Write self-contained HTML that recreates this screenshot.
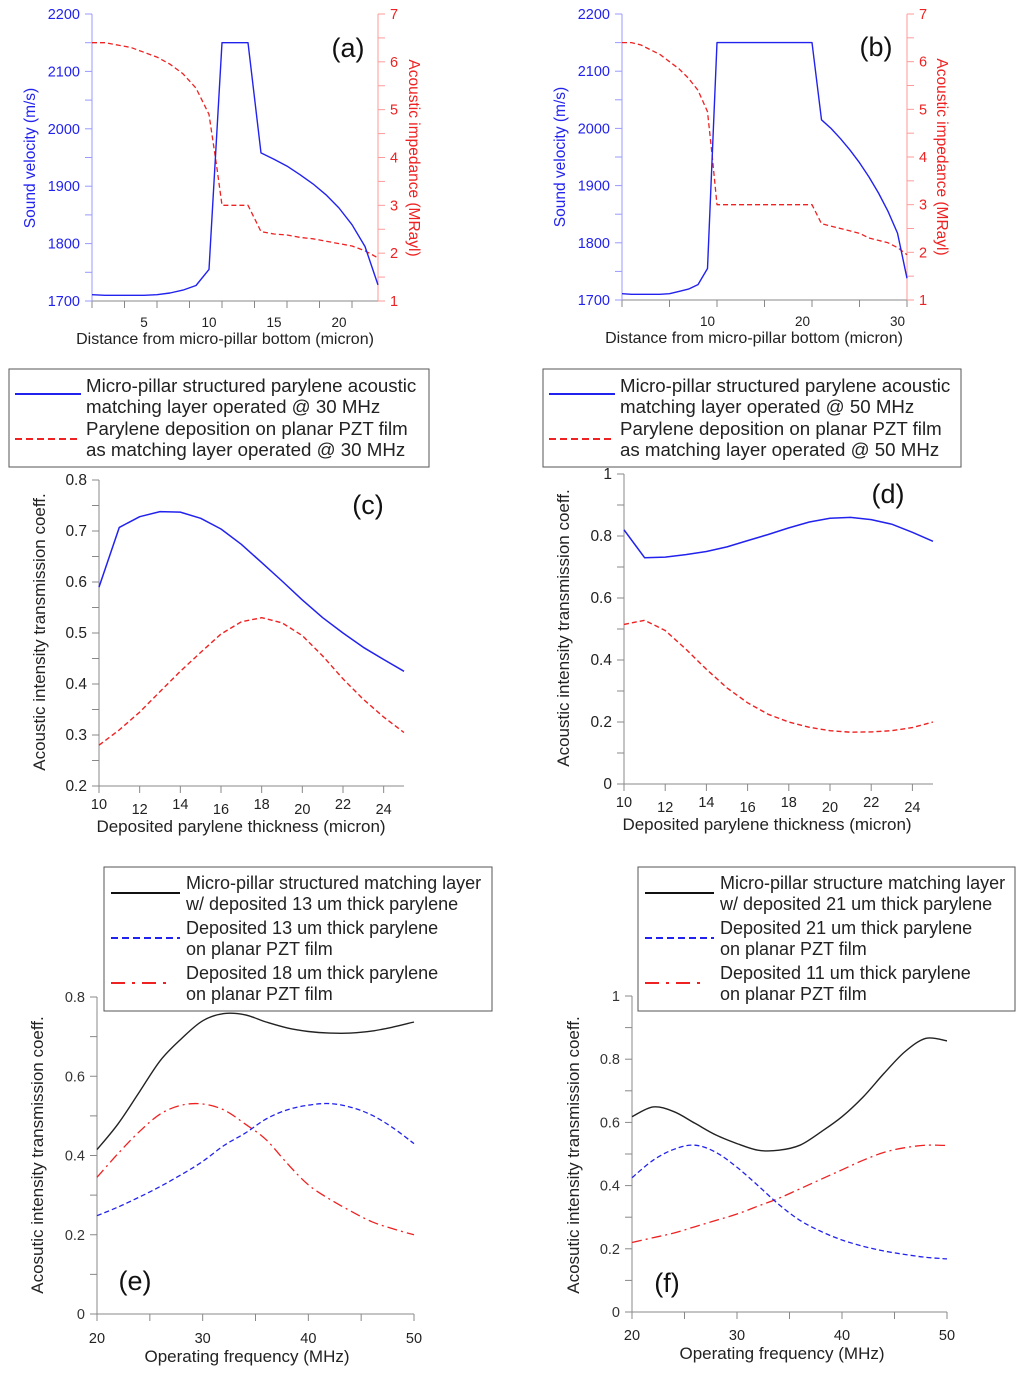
<!DOCTYPE html>
<html><head><meta charset="utf-8"><style>
html,body{margin:0;padding:0;background:#fff;}
svg{display:block;font-family:"Liberation Sans",Arial,sans-serif;}
</style></head><body>
<svg id="fig" width="1024" height="1374" viewBox="0 0 1024 1374" xmlns="http://www.w3.org/2000/svg"></svg>
<script>
// ---- data: panel (a)
const aX=[1,2,3,4,5,6,7,8,9,10,11,12,13,14,15,16,17,18,19,20,21,22,23];
const aVel=[1711,1710,1710,1710,1710,1711,1714,1719,1727,1755,2150,2150,2150,1958,1947,1935,1920,1904,1885,1862,1833,1795,1728];
const aZX=[1,2,3,4,5,6,7,8,9,10,10.6,11,12,13,14,15,16,17,18,19,20,21,22,23];
const aZ=[6.4,6.4,6.35,6.3,6.2,6.1,5.95,5.75,5.45,4.9,3.8,3.0,3.0,3.0,2.45,2.4,2.38,2.33,2.3,2.25,2.2,2.15,2.05,1.9];
// ---- panel (b)
const bX=[1,2,3,4,5,6,7,8,9,10,11,12,13,14,15,16,17,18,19,20,21,22,23,24,25,26,27,28,29,30,31];
const bVel=[1711,1710,1710,1710,1710,1711,1715,1719,1727,1755,2150,2150,2150,2150,2150,2150,2150,2150,2150,2150,2150,2015,2000,1982,1962,1940,1915,1887,1855,1817,1738];
const bZX=[1,2,3,4,5,6,7,8,9,10,10.5,11,12,13,14,15,16,17,18,19,20,21,22,23,24,25,26,27,28,29,30,31];
const bZ=[6.4,6.4,6.35,6.25,6.15,6.0,5.85,5.65,5.4,4.95,4.0,3.0,3.0,3.0,3.0,3.0,3.0,3.0,3.0,3.0,3.0,3.0,2.6,2.55,2.5,2.45,2.4,2.3,2.25,2.2,2.1,1.95];
// ---- panels (c),(d)
const thick=[10,11,12,13,14,15,16,17,18,19,20,21,22,23,24,25];
const cPillar=[0.59,0.707,0.728,0.738,0.737,0.725,0.704,0.674,0.638,0.602,0.565,0.53,0.5,0.472,0.448,0.425];
const cPlanar=[0.28,0.31,0.345,0.385,0.425,0.462,0.498,0.522,0.53,0.52,0.495,0.455,0.41,0.37,0.335,0.305];
const dPillar=[0.82,0.73,0.732,0.74,0.75,0.765,0.785,0.805,0.826,0.845,0.857,0.86,0.853,0.838,0.812,0.783];
const dPlanar=[0.515,0.528,0.495,0.435,0.37,0.31,0.262,0.225,0.2,0.183,0.172,0.167,0.168,0.172,0.182,0.2];
// ---- panels (e),(f)
const freq=[20,22,24,26,28,30,32,34,36,38,40,42,44,46,48,50];
const ePillar=[0.415,0.48,0.56,0.64,0.695,0.74,0.758,0.755,0.737,0.722,0.713,0.709,0.709,0.714,0.724,0.737];
const ePlanar13=[0.248,0.27,0.295,0.322,0.352,0.385,0.425,0.456,0.492,0.515,0.527,0.531,0.522,0.502,0.47,0.43];
const ePlanar18=[0.345,0.405,0.46,0.505,0.527,0.53,0.515,0.48,0.44,0.38,0.326,0.29,0.26,0.233,0.215,0.2];
const fPillar=[0.618,0.649,0.634,0.597,0.56,0.533,0.512,0.512,0.528,0.57,0.618,0.68,0.755,0.824,0.866,0.858];
const fPlanar21=[0.425,0.48,0.515,0.528,0.505,0.458,0.4,0.34,0.29,0.255,0.228,0.208,0.193,0.182,0.173,0.168];
const fPlanar11=[0.22,0.235,0.25,0.27,0.29,0.31,0.335,0.36,0.39,0.42,0.45,0.48,0.505,0.52,0.528,0.527];

const NS="http://www.w3.org/2000/svg";
const svg=document.getElementById('fig');
function el(tag,attrs,parent,text){const e=document.createElementNS(NS,tag);for(const k in attrs)e.setAttribute(k,attrs[k]);if(text!==undefined)e.textContent=text;(parent||svg).appendChild(e);return e;}
function scale(d0,d1,r0,r1){return v=>r0+(v-d0)*(r1-r0)/(d1-d0);}
function line(g,xs,ys,sx,sy,color,dash,w,name){
  const pts=xs.map((x,i)=>sx(x).toFixed(1)+','+sy(ys[i]).toFixed(1)).join(' ');
  const p=el('polyline',{points:pts,fill:'none',stroke:color,'stroke-width':w||1.5,'stroke-dasharray':dash||'none','stroke-linejoin':'round'},g);
  
  
  return p;
}
function curve(g,xs,ys,sx,sy,color,dash,w,name){
  const P=xs.map((x,i)=>[sx(x),sy(ys[i])]);
  let d='M'+P[0][0].toFixed(1)+','+P[0][1].toFixed(1);
  for(let i=0;i<P.length-1;i++){
    const p0=P[Math.max(i-1,0)],p1=P[i],p2=P[i+1],p3=P[Math.min(i+2,P.length-1)];
    const c1=[p1[0]+(p2[0]-p0[0])/6,p1[1]+(p2[1]-p0[1])/6];
    const c2=[p2[0]-(p3[0]-p1[0])/6,p2[1]-(p3[1]-p1[1])/6];
    d+=' C'+c1.map(v=>v.toFixed(1)).join(',')+' '+c2.map(v=>v.toFixed(1)).join(',')+' '+p2.map(v=>v.toFixed(1)).join(',');
  }
  const p=el('path',{d:d,fill:'none',stroke:color,'stroke-width':w||1.5,'stroke-dasharray':dash||'none'},g);
  
  
  return p;
}
function vtext(g,x,y,txt,color,size,rot,name){
  const t=el('text',{x:x,y:y,fill:color,'font-size':size,'text-anchor':'middle',transform:'rotate('+rot+' '+x+' '+y+')'},g,txt);
  
  
}
function yAxis(g,x,sy,min,max,minor,major,color,labColor,side,fmt,name,fs){
  const ax=el('g',{},g);
  
  
  el('line',{x1:x,y1:sy(min),x2:x,y2:sy(max),stroke:color,'stroke-width':1},ax);
  const n=Math.floor((max-min)/minor+1e-6);
  for(let i=0;i<=n;i++){const v=min+i*minor;const y=sy(v);const dir=side==='left'?-1:1;
    el('line',{x1:x,y1:y,x2:x+dir*7,y2:y,stroke:color,'stroke-width':1},ax);
    if(Math.abs(v/major-Math.round(v/major))<1e-6){
      el('text',{x:side==='left'?x-12:x+12,y:y+5,fill:labColor,'font-size':fs||14,'text-anchor':side==='left'?'end':'start'},ax,fmt(v));
    }}
}
function xAxis(g,y,sx,min,max,minor,labels,labelY,color,name,fs,stag){
  const ax=el('g',{},g);
  
  
  el('line',{x1:sx(min),y1:y,x2:sx(max),y2:y,stroke:color,'stroke-width':1},ax);
  const n=Math.floor((max-min)/minor+1e-6);
  for(let i=0;i<=n;i++){const v=min+i*minor;el('line',{x1:sx(v),y1:y,x2:sx(v),y2:y+7,stroke:color,'stroke-width':1},ax);}
  labels.forEach((v,i)=>{el('text',{x:sx(v),y:labelY+(stag&&i%2?5:0),fill:'#222','font-size':fs||14,'text-anchor':'middle'},ax,String(v));});
}
function plabel(g,x,y,t,name){const e=el('text',{x:x,y:y,'font-size':27,fill:'#111','text-anchor':'middle','font-family':'"Liberation Sans",sans-serif'},g,t);
  
  }
function legend(g,x,y,w,h,items,fs,name){
  const lg=el('g',{},g);
  
  
  el('rect',{x:x,y:y,width:w,height:h,fill:'#fff',stroke:'#555','stroke-width':1},lg);
  items.forEach(it=>{
    el('line',{x1:x+it.lx0,y1:y+it.ly,x2:x+it.lx1,y2:y+it.ly,stroke:it.color,'stroke-width':2,'stroke-dasharray':it.dash||'none'},lg);
    it.lines.forEach((s,j)=>el('text',{x:x+it.tx,y:y+it.ty+j*21,'font-size':fs,fill:'#222'},lg,s));
  });
}
const BLUE='#2222ee',RED='#ee2222',LB='#9a9aff',LR='#ff9a9a',GR='#888';

// ---------- Panel a
(function(){
  const g=el('g',{});
  const sx=scale(1,23,92,378), sy=scale(1700,2200,301,14), sz=scale(1,7,301,14);
  xAxis(g,301,sx,1,23,2.5,[5,10,15,20],327,GR,'x-axis-a',13.5);
  yAxis(g,92,sy,1700,2200,50,100,LB,BLUE,'left',v=>String(v),'y-axis-velocity-a',14.5);
  yAxis(g,378,sz,1,7,0.5,1,LR,RED,'right',v=>String(v),'y-axis-impedance-a',14.5);
  line(g,aZX,aZ,sx,sz,RED,'5,3',1.3,'impedance-line-a');
  line(g,aX,aVel,sx,sy,BLUE,null,1.4,'velocity-line-a');
  vtext(g,35,158,'Sound velocity (m/s)',BLUE,15.5,-90,'y-axis-title-velocity-a');
  vtext(g,409,158,'Acoustic impedance (MRayl)',RED,15.5,90,'y-axis-title-impedance-a');
  el('text',{x:225,y:344,'font-size':16,'text-anchor':'middle',fill:'#222'},g,'Distance from micro-pillar bottom (micron)');
  plabel(g,348,57,'(a)','panel-label-a');
})();
// ---------- Panel b
(function(){
  const g=el('g',{});
  const sx=scale(1,31,622,907), sy=scale(1700,2200,300,14), sz=scale(1,7,300,14);
  xAxis(g,300,sx,1,31,5,[10,20,30],326,GR,'x-axis-b',13.5);
  yAxis(g,622,sy,1700,2200,50,100,LB,BLUE,'left',v=>String(v),'y-axis-velocity-b',14.5);
  yAxis(g,907,sz,1,7,0.5,1,LR,RED,'right',v=>String(v),'y-axis-impedance-b',14.5);
  line(g,bZX,bZ,sx,sz,RED,'5,3',1.3,'impedance-line-b');
  line(g,bX,bVel,sx,sy,BLUE,null,1.4,'velocity-line-b');
  vtext(g,565,157,'Sound velocity (m/s)',BLUE,15.5,-90,'y-axis-title-velocity-b');
  vtext(g,937,157,'Acoustic impedance (MRayl)',RED,15.5,90,'y-axis-title-impedance-b');
  el('text',{x:754,y:343,'font-size':16,'text-anchor':'middle',fill:'#222'},g,'Distance from micro-pillar bottom (micron)');
  plabel(g,876,56,'(b)','panel-label-b');
})();
// ---------- Panel c
(function(){
  const g=el('g',{});
  const sx=scale(10,25,99,404), sy=scale(0.2,0.8,786,480);
  xAxis(g,786,sx,10,25,2,[10,12,14,16,18,20,22,24],809,GR,'x-axis-c',14.5,true);
  yAxis(g,99,sy,0.2,0.8,0.05,0.1,GR,'#222','left',v=>v.toFixed(1),'y-axis-c',15.5);
  line(g,thick,cPlanar,sx,sy,RED,'5,3',1.4,'planar-line-c');
  line(g,thick,cPillar,sx,sy,BLUE,null,1.5,'pillar-line-c');
  vtext(g,45,632,'Acoustic intensity transmission coeff.','#222',17,-90,'y-axis-title-c');
  el('text',{x:241,y:832,'font-size':17,'text-anchor':'middle',fill:'#222'},g,'Deposited parylene thickness (micron)');
  plabel(g,368,514,'(c)','panel-label-c');
  legend(g,9,369,420,98,[
    {color:BLUE,lx0:6,lx1:72,ly:25,tx:77,ty:23,lines:['Micro-pillar structured parylene acoustic','matching layer operated @ 30 MHz']},
    {color:RED,dash:'7,4',lx0:6,lx1:70,ly:70,tx:77,ty:66,lines:['Parylene deposition on planar PZT film','as matching layer operated @ 30 MHz']}],18.7,'legend-c');
})();
// ---------- Panel d
(function(){
  const g=el('g',{});
  const sx=scale(10,25,624,933), sy=scale(0,1,784,474);
  xAxis(g,784,sx,10,25,2,[10,12,14,16,18,20,22,24],807,GR,'x-axis-d',14.5,true);
  yAxis(g,624,sy,0,1,0.1,0.2,GR,'#222','left',v=>v===0||v===1?String(Math.round(v)):v.toFixed(1),'y-axis-d',15.5);
  line(g,thick,dPlanar,sx,sy,RED,'5,3',1.4,'planar-line-d');
  line(g,thick,dPillar,sx,sy,BLUE,null,1.5,'pillar-line-d');
  vtext(g,569,628,'Acoustic intensity transmission coeff.','#222',17,-90,'y-axis-title-d');
  el('text',{x:767,y:830,'font-size':17,'text-anchor':'middle',fill:'#222'},g,'Deposited parylene thickness (micron)');
  plabel(g,888,503,'(d)','panel-label-d');
  legend(g,543,369,418,98,[
    {color:BLUE,lx0:6,lx1:72,ly:25,tx:77,ty:23,lines:['Micro-pillar structured parylene acoustic','matching layer operated @ 50 MHz']},
    {color:RED,dash:'7,4',lx0:6,lx1:70,ly:70,tx:77,ty:66,lines:['Parylene deposition on planar PZT film','as matching layer operated @ 50 MHz']}],18.7,'legend-d');
})();
// ---------- Panel e
(function(){
  const g=el('g',{});
  const sx=scale(20,50,97,414), sy=scale(0,0.8,1314,997);
  xAxis(g,1314,sx,20,50,5,[20,30,40,50],1343,GR,'x-axis-e',14.5);
  yAxis(g,97,sy,0,0.8,0.1,0.2,GR,'#333','left',v=>v===0?'0':v.toFixed(1),'y-axis-e',14.5);
  curve(g,freq,ePlanar18,sx,sy,RED,'10,4,2,4',1.3,'planar18-line-e');
  curve(g,freq,ePlanar13,sx,sy,BLUE,'5,3',1.3,'planar13-line-e');
  curve(g,freq,ePillar,sx,sy,'#222',null,1.4,'pillar-line-e');
  vtext(g,43,1155,'Acosutic intensity transmission coeff.','#222',17,-90,'y-axis-title-e');
  el('text',{x:247,y:1362,'font-size':17,'text-anchor':'middle',fill:'#222'},g,'Operating frequency (MHz)');
  plabel(g,135,1290,'(e)','panel-label-e');
  legend(g,104,867,388,144,[
    {color:'#111',lx0:7,lx1:76,ly:26,tx:82,ty:22,lines:['Micro-pillar structured matching layer','w/ deposited 13 um thick parylene']},
    {color:BLUE,dash:'7,4',lx0:7,lx1:76,ly:71,tx:82,ty:67,lines:['Deposited 13 um thick parylene','on planar PZT film']},
    {color:RED,dash:'14,7,3,7',lx0:7,lx1:64,ly:116,tx:82,ty:112,lines:['Deposited 18 um thick parylene','on planar PZT film']}],18,'legend-e');
})();
// ---------- Panel f
(function(){
  const g=el('g',{});
  const sx=scale(20,50,632,947), sy=scale(0,1,1312,996);
  xAxis(g,1312,sx,20,50,5,[20,30,40,50],1340,GR,'x-axis-f',14.5);
  yAxis(g,632,sy,0,1,0.1,0.2,GR,'#333','left',v=>v===0||v===1?String(Math.round(v)):v.toFixed(1),'y-axis-f',14.5);
  curve(g,freq,fPlanar11,sx,sy,RED,'10,4,2,4',1.3,'planar11-line-f');
  curve(g,freq,fPlanar21,sx,sy,BLUE,'5,3',1.3,'planar21-line-f');
  curve(g,freq,fPillar,sx,sy,'#222',null,1.4,'pillar-line-f');
  vtext(g,579,1155,'Acosutic intensity transmission coeff.','#222',17,-90,'y-axis-title-f');
  el('text',{x:782,y:1359,'font-size':17,'text-anchor':'middle',fill:'#222'},g,'Operating frequency (MHz)');
  plabel(g,667,1292,'(f)','panel-label-f');
  legend(g,638,867,377,144,[
    {color:'#111',lx0:7,lx1:76,ly:26,tx:82,ty:22,lines:['Micro-pillar structure matching layer','w/ deposited 21 um thick parylene']},
    {color:BLUE,dash:'7,4',lx0:7,lx1:76,ly:71,tx:82,ty:67,lines:['Deposited 21 um thick parylene','on planar PZT film']},
    {color:RED,dash:'14,7,3,7',lx0:7,lx1:64,ly:116,tx:82,ty:112,lines:['Deposited 11 um thick parylene','on planar PZT film']}],18,'legend-f');
})();
</script>
</body></html>
